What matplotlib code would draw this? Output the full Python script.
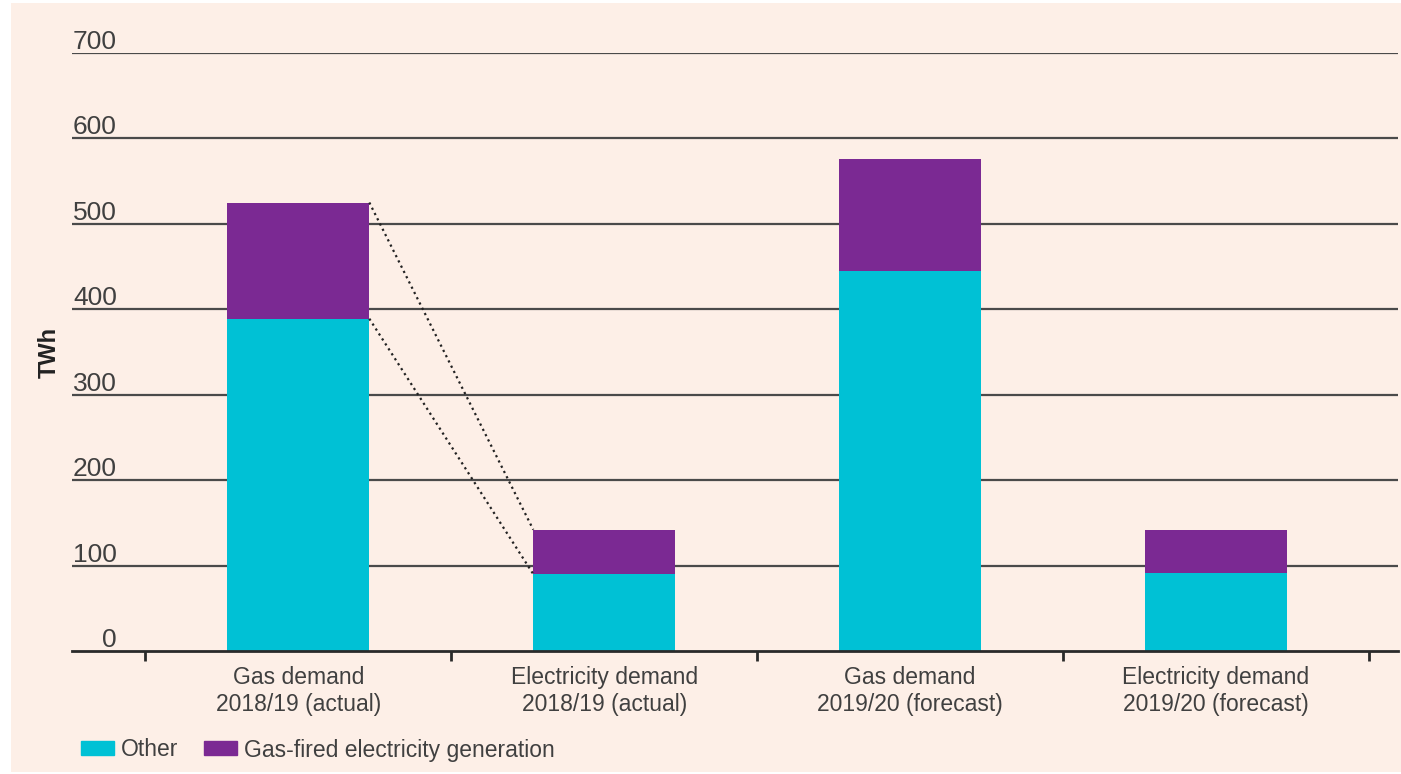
import numpy as np
import matplotlib.pyplot as plt
from matplotlib.patches import Rectangle, Patch
from matplotlib.transforms import offset_copy

# Data (TWh)
categories = ['Gas demand\n2018/19 (actual)', 'Electricity demand\n2018/19 (actual)',
              'Gas demand\n2019/20 (forecast)', 'Electricity demand\n2019/20 (forecast)']
other = [389, 90, 445, 91]
gas_fired = [136, 52, 131, 51]
yticks = [0, 100, 200, 300, 400, 500, 600, 700]

CYAN = '#00c1d5'
PURPLE = '#7b2993'
BG = '#fdefe7'
TEXT = '#404040'

plt.rcParams['font.family'] = ['Liberation Sans', 'DejaVu Sans']

fig = plt.figure(figsize=(14.01, 7.74), dpi=100, facecolor='white')
# peach panel behind the whole chart
fig.patches.append(Rectangle((11 / 1401, 2 / 774), 1390 / 1401, 769 / 774,
                             transform=fig.transFigure, facecolor=BG,
                             edgecolor='none', zorder=-10))

ax = fig.add_axes([72 / 1401, 123 / 774, 1326 / 1401, 598 / 774])
ax.set_facecolor('none')

x = np.arange(len(categories))
w = 0.464
ax.bar(x, other, width=w, color=CYAN, zorder=3)
ax.bar(x, gas_fired, width=w, bottom=other, color=PURPLE, zorder=3)

# dotted connectors: gas-fired share of gas demand -> electricity demand
total0 = other[0] + gas_fired[0]
total1 = other[1] + gas_fired[1]
ax.plot([x[0] + w / 2, x[1] - w / 2], [total0, total1], ls=':', color='#222222', lw=1.6, zorder=4)
ax.plot([x[0] + w / 2, x[1] - w / 2], [other[0], other[1]], ls=':', color='#222222', lw=1.6, zorder=4)

ax.set_xlim(-0.74, 3.595)
ax.set_ylim(0, 700)

# gridlines
for v in yticks[1:]:
    ax.axhline(v, color='#4a4a4a', lw=1.6, zorder=1)
for s in ['top', 'right', 'left']:
    ax.spines[s].set_visible(False)
ax.spines['bottom'].set_color('#2a2a2a')
ax.spines['bottom'].set_linewidth(2)
ax.spines['bottom'].set_zorder(5)

# y tick labels sit above the gridlines
ax.set_yticks([])
tr = offset_copy(ax.get_yaxis_transform(), fig=fig, x=0, y=4, units='dots')
for v in yticks:
    ax.text(45 / 1326, v, str(v), transform=tr, ha='right', va='baseline',
            fontsize=19, color=TEXT)

ax.set_xticks(x)
ax.set_xticklabels(categories, fontsize=16.5, color=TEXT, linespacing=1.2)
ax.tick_params(axis='x', which='major', length=0, pad=11)
ax.set_xticks(np.arange(-0.5, 4, 1), minor=True)
ax.tick_params(axis='x', which='minor', length=7, width=2, color='#2a2a2a', direction='out')

fig.text(49 / 1401, 1 - 352 / 774, 'TWh', rotation=90, ha='center', va='center',
         fontsize=17, fontweight='bold', color='#222222')

handles = [Patch(color=CYAN, label='Other'),
           Patch(color=PURPLE, label='Gas-fired electricity generation')]
fig.legend(handles=handles, loc='center left', bbox_to_anchor=(81 / 1401, 24 / 774),
           ncol=2, frameon=False, fontsize=16.5, handlelength=1.43, handleheight=0.57,
           handletextpad=0.3, columnspacing=1.13, borderpad=0, borderaxespad=0,
           labelcolor=TEXT)

fig.savefig('out.png', dpi=100, facecolor='white')
